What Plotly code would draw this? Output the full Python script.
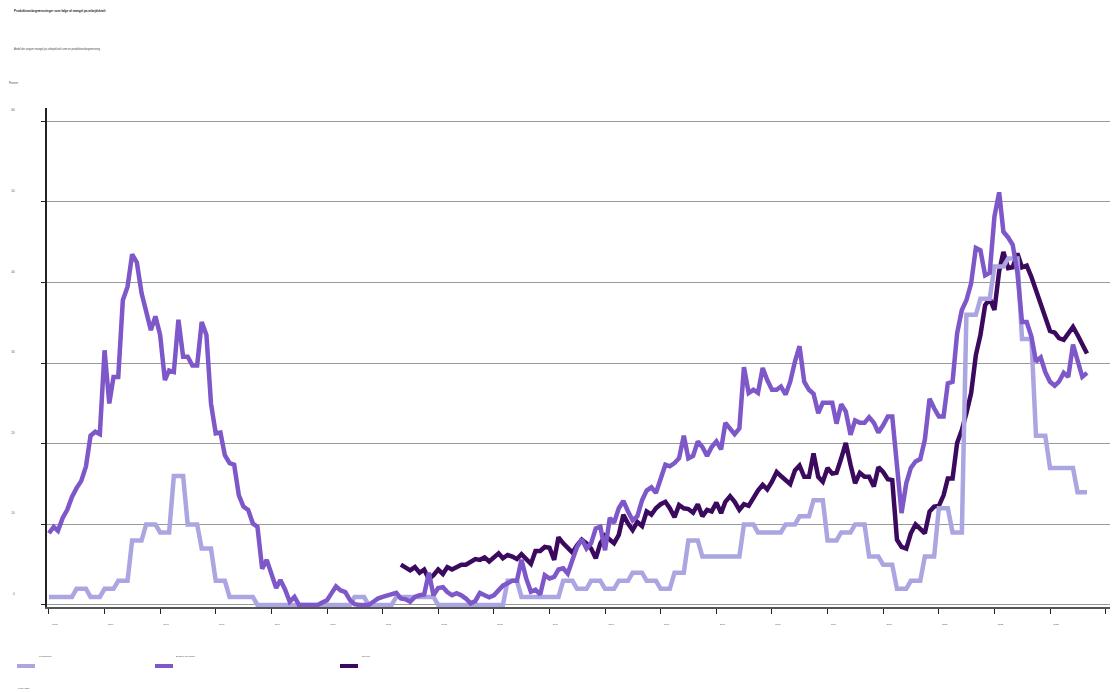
import pandas as pd
import numpy as np
import plotly.graph_objects as go

# ---- data (percent of firms reporting labour shortage as a production limitation) ----
series_names = ["Fremstilling", "Byggeri og anlæg", "Service"]

# Fremstilling: quarterly, 2005Q1 - 2023Q3
fremstilling_q = [
    1, 1, 2, 1,        # 2005
    2, 3, 8, 10,       # 2006
    9, 16, 10, 7,      # 2007
    3, 1, 1, 0,        # 2008
    0, 0, 0, 0,        # 2009
    0, 0, 1, 0,        # 2010
    0, 1, 1, 1,        # 2011
    0, 0, 0, 0,        # 2012
    0, 3, 1, 1,        # 2013
    1, 3, 2, 3,        # 2014
    2, 3, 4, 3,        # 2015
    2, 4, 8, 6,        # 2016
    6, 6, 10, 9,       # 2017
    9, 10, 11, 13,     # 2018
    8, 9, 10, 6,       # 2019
    5, 2, 3, 6,        # 2020
    12, 9, 36, 38,     # 2021
    42, 43, 33, 21,    # 2022
    17, 17, 14,        # 2023
]

# Byggeri og anlæg: monthly, Jan 2005 - Sep 2023
byggeri = [
    8.9, 9.7, 9.2, 10.8, 11.8, 13.4, 14.5, 15.4, 17.2, 21.0, 21.5, 21.2,      # 2005
    31.6, 25.0, 28.3, 28.3, 37.8, 39.5, 43.5, 42.5, 38.7, 36.4, 34.1, 35.8,   # 2006
    33.5, 27.9, 29.1, 28.9, 35.4, 30.8, 30.8, 29.7, 29.7, 35.1, 33.5, 25.0,   # 2007
    21.3, 21.4, 18.6, 17.6, 17.4, 13.6, 12.2, 11.8, 10.1, 9.7, 4.5, 5.6,      # 2008
    3.7, 2.1, 3.1, 1.9, 0.4, 1.0, 0, 0, 0, 0, 0, 0.3,                         # 2009
    0.6, 1.5, 2.3, 1.8, 1.6, 0.6, 0.1, 0, 0, 0, 0.4, 0.8,                     # 2010
    1.0, 1.2, 1.4, 1.5, 0.8, 0.7, 0.4, 1.0, 1.2, 1.3, 4.0, 1.2,               # 2011
    2.1, 2.2, 1.6, 1.2, 1.45, 1.2, 0.8, 0.2, 0.5, 1.5, 1.2, 0.95,             # 2012
    1.2, 1.9, 2.4, 2.7, 3.0, 3.0, 5.6, 3.3, 1.65, 1.9, 1.3, 3.7,              # 2013
    3.3, 3.5, 4.4, 4.55, 3.9, 5.6, 7.2, 8.15, 7.0, 7.65, 9.5, 9.7,            # 2014
    6.8, 10.8, 10.2, 12.0, 12.9, 11.6, 10.5, 11.0, 13.0, 14.2, 14.6, 13.9,    # 2015
    15.7, 17.4, 17.2, 17.6, 18.2, 21.0, 18.2, 18.5, 20.3, 19.6, 18.5, 19.6,   # 2016
    20.3, 19.3, 22.6, 21.9, 21.2, 21.9, 29.5, 26.3, 26.7, 26.3, 29.4, 27.9,   # 2017
    26.7, 26.7, 27.1, 26.1, 27.7, 30.2, 32.1, 27.7, 26.7, 26.2, 23.8, 25.1,   # 2018
    25.1, 25.1, 22.5, 24.9, 24.0, 21.1, 22.9, 22.6, 22.6, 23.3, 22.6, 21.4,   # 2019
    22.3, 23.4, 23.4, 17.0, 11.4, 15.1, 17.0, 17.8, 18.1, 20.5, 25.6, 24.4,   # 2020
    23.4, 23.4, 27.5, 27.7, 33.7, 36.6, 37.8, 39.9, 44.3, 44.0, 40.9, 41.2,   # 2021
    48.2, 51.2, 46.3, 45.6, 44.7, 41.2, 35.1, 35.1, 33.3, 30.2, 30.7, 28.9,   # 2022
    27.7, 27.2, 27.7, 28.8, 28.3, 32.3, 30.1, 28.3, 28.8,                     # 2023
]

# Service: monthly, May 2011 - Sep 2023
service = [
    5.0, 4.7, 4.3, 4.7, 4.0, 4.4, 3.2, 3.7,                                   # 2011 (May-Dec)
    4.4, 3.85, 4.7, 4.4, 4.7, 5.0, 5.0, 5.4, 5.7, 5.6, 5.9, 5.4,              # 2012
    5.9, 6.4, 5.8, 6.2, 6.0, 5.7, 6.3, 5.7, 5.1, 6.7, 6.7, 7.2,               # 2013
    7.1, 5.6, 8.4, 7.65, 7.0, 6.5, 7.4, 8.1, 7.65, 7.0, 5.8, 7.65,            # 2014
    8.6, 8.1, 7.65, 8.7, 11.2, 10.1, 9.3, 10.3, 9.8, 11.6, 11.2, 12.0,        # 2015
    12.5, 12.8, 12.0, 10.9, 12.4, 12.0, 11.9, 11.45, 12.5, 11.0, 11.8, 11.6,  # 2016
    12.7, 11.4, 12.8, 13.5, 12.8, 11.8, 12.5, 12.3, 13.4, 14.2, 14.9, 14.35,  # 2017
    15.3, 16.5, 16.0, 15.4, 15.0, 16.7, 17.3, 15.9, 15.9, 18.8, 15.9, 15.3,   # 2018
    17.0, 16.3, 16.4, 18.2, 20.1, 17.4, 15.1, 16.4, 15.9, 15.9, 14.7, 17.1,   # 2019
    16.5, 15.6, 15.5, 8.1, 7.2, 7.0, 8.9, 10.0, 9.5, 8.9, 11.6, 12.2,         # 2020
    12.3, 13.6, 15.7, 15.7, 20.1, 21.7, 23.8, 26.3, 31.0, 33.5, 37.2, 38.0,   # 2021
    36.6, 41.4, 43.8, 41.8, 41.9, 43.6, 41.9, 42.1, 40.7, 39.1, 37.2, 36.0,   # 2022
    34.0, 33.8, 33.1, 32.9, 33.7, 34.5, 33.5, 32.4, 31.2,                     # 2023
]

years = list(range(2005, 2025))
year_labels = [str(y) for y in range(2005, 2024)] + [""]
y_ticks = [0, 10, 20, 30, 40, 50, 60]

colors = ["#aba6e2", "#7e57c9", "#3b0a5e"]

# ---- build ----
months_all = pd.date_range("2005-01-01", periods=len(byggeri), freq="MS")
fremstilling_m = list(np.repeat(fremstilling_q, 3))
months_frem = pd.date_range("2005-01-01", periods=len(fremstilling_m), freq="MS")
months_serv = pd.date_range("2011-05-01", periods=len(service), freq="MS")

fig = go.Figure()
fig.add_trace(go.Scatter(x=months_serv, y=service, mode="lines", name=series_names[2],
                         line=dict(color=colors[2], width=4.5), showlegend=False))
fig.add_trace(go.Scatter(x=months_frem, y=fremstilling_m, mode="lines", name=series_names[0],
                         line=dict(color=colors[0], width=4.5), showlegend=False))
fig.add_trace(go.Scatter(x=months_all, y=byggeri, mode="lines", name=series_names[1],
                         line=dict(color=colors[1], width=4.5), showlegend=False))

W, H = 1116, 692
L, R, T, B = 47, 6, 108, 85
PW, PH = W - L - R, H - T - B


def px(xp):
    return (xp - L) / PW


def py(yp):
    return (H - B - yp) / PH


fontfam = "Liberation Sans, Arial, sans-serif"

fig.update_layout(
    width=W, height=H,
    margin=dict(l=L, r=R, t=T, b=B, pad=0, autoexpand=False),
    paper_bgcolor="white", plot_bgcolor="white",
    font=dict(family=fontfam, color="#333"),
    showlegend=False,
)

fig.update_xaxes(
    type="date", range=["2004-12-19", "2024-01-30"],
    tickvals=[f"{y}-01-01" for y in years], ticktext=year_labels,
    ticks="outside", ticklen=5, tickcolor="#222", tickwidth=1,
    showline=True, linecolor="#555", linewidth=1.5,
    showgrid=False, zeroline=False, automargin=False,
    tickfont=dict(size=2.4, color="#555"),
    ticklabelshift=6, ticklabelstandoff=8,
)
fig.update_yaxes(
    range=[-0.25, 61.66], tickvals=y_ticks, ticktext=[str(v) for v in y_ticks],
    showgrid=True, gridcolor="#9a9a9a", gridwidth=1, zeroline=False,
    showline=True, linecolor="#222", linewidth=1.5, automargin=False,
    ticks="outside", ticklen=4, tickcolor="#222", tickwidth=1,
    tickfont=dict(size=3, color="#555"),
    ticklabelshift=-11, ticklabelstandoff=26,
)

ann = []
ann.append(dict(text="<b>Produktionsbegrænsninger som følge af mangel på arbejdskraft</b>",
                x=px(12), y=py(11), xref="paper", yref="paper", xanchor="left", yanchor="middle",
                showarrow=False, font=dict(size=3, color="#222")))
ann.append(dict(text="Andel der angiver mangel på arbejdskraft som en produktionsbegrænsning",
                x=px(12), y=py(49), xref="paper", yref="paper", xanchor="left", yanchor="middle",
                showarrow=False, font=dict(size=2.6, color="#444")))
ann.append(dict(text="Procent", x=px(7), y=py(83), xref="paper", yref="paper",
                xanchor="left", yanchor="middle", showarrow=False,
                font=dict(size=2.6, color="#444")))
ann.append(dict(text="Kilde: DST", x=px(16), y=py(688), xref="paper", yref="paper",
                xanchor="left", yanchor="middle", showarrow=False,
                font=dict(size=2.4, color="#444")))

legend_pos = [(17, 37), (155, 174), (340, 360)]
leg_order = [0, 1, 2]
shapes = []
for (sx, tx), i in zip(legend_pos, leg_order):
    shapes.append(dict(type="rect", xref="paper", yref="paper",
                       x0=px(sx), x1=px(sx + 18), y0=py(668), y1=py(664),
                       fillcolor=colors[i], line=dict(width=0)))
    ann.append(dict(text=series_names[i], x=px(tx), y=py(656), xref="paper", yref="paper",
                    xanchor="left", yanchor="middle", showarrow=False,
                    font=dict(size=2.4, color="#444")))

fig.update_layout(annotations=ann, shapes=shapes)

fig.write_html("out.html", config={"displayModeBar": False},
               post_script="document.body.style.margin='0';")
